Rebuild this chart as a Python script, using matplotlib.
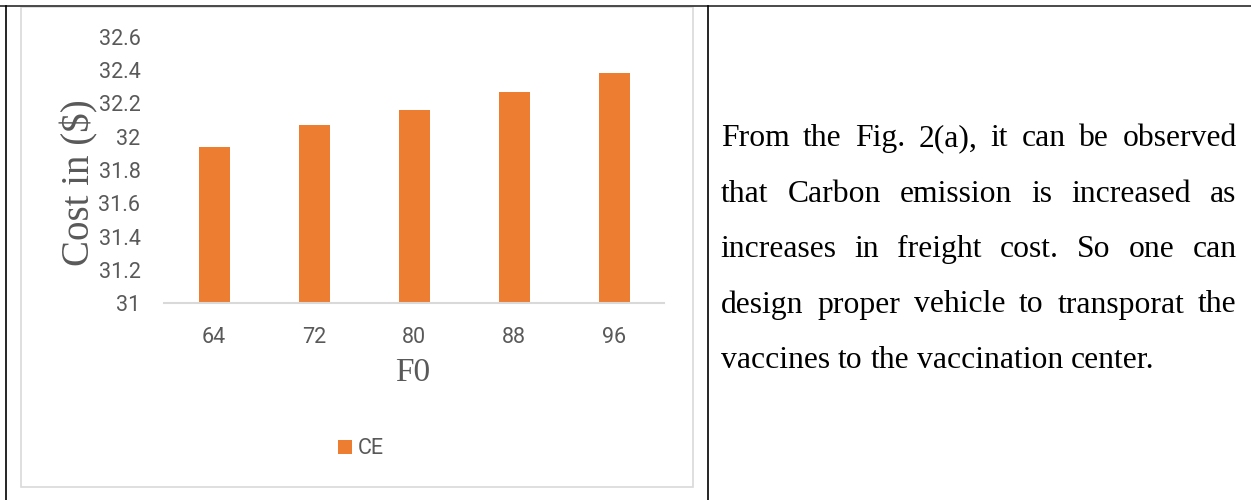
import matplotlib.pyplot as plt
from matplotlib.patches import Rectangle
from matplotlib.lines import Line2D

# freight cost levels and carbon emission cost
f0_levels = ["64", "72", "80", "88", "96"]
ce_cost = [31.94, 32.07, 32.16, 32.27, 32.38]
y_ticks = [31, 31.2, 31.4, 31.6, 31.8, 32, 32.2, 32.4, 32.6]
y_ticklabels = ["31", "31.2", "31.4", "31.6", "31.8", "32", "32.2", "32.4", "32.6"]

notes = [
    "From the Fig. 2(a), it can be observed",
    "that Carbon emission is increased as",
    "increases in freight cost. So one can",
    "design proper vehicle to transporat the",
    "vaccines to the vaccination center.",
]

W, H = 1251, 500
orange = "#ED7D31"
grey_txt = "#595959"
grey_line = "#D9D9D9"

fig = plt.figure(figsize=(W / 100, H / 100), dpi=100)

def px(x, y):
    # pixel position (from top-left) to figure fraction
    return x / W, 1 - y / H

# table borders
fig.add_artist(Line2D([0, 1], [1 - 5.5 / H] * 2, color="#3a3a3a", lw=1.3))
fig.add_artist(Line2D([6 / W] * 2, [0, 1 - 5.5 / H], color="black", lw=1.2))
fig.add_artist(Line2D([707.5 / W] * 2, [0, 1 - 5.5 / H], color="black", lw=1.2))

# chart frame
x0, y0 = px(21, 486.7)
x1, y1 = px(693, 7.3)
fig.add_artist(Rectangle((x0, y0), x1 - x0, y1 - y0, transform=fig.transFigure,
                         fill=False, edgecolor=grey_line, lw=1.2))

# bar chart
ax = fig.add_axes([164 / W, 1 - 303.3 / H, 500 / W, (303.3 - 36.7) / H])
xpos = range(len(f0_levels))
bars = ax.bar(xpos, [v - 31 for v in ce_cost], bottom=31, width=0.31,
              color=orange, label="CE", zorder=2)
ax.set_xlim(-0.5, len(f0_levels) - 0.5)
ax.set_ylim(31, 32.6)
ax.set_xticks(list(xpos))
ax.set_xticklabels(f0_levels)
ax.set_yticks(y_ticks)
ax.set_yticklabels(y_ticklabels)
ax.tick_params(length=0, labelsize=15.5, labelcolor=grey_txt, pad=17)
for lab in ax.get_xticklabels() + ax.get_yticklabels():
    lab.set_family("Roboto")
for s in ["top", "right", "left"]:
    ax.spines[s].set_visible(False)
ax.spines["bottom"].set_color(grey_line)
ax.spines["bottom"].set_linewidth(1.5)
ax.patch.set_alpha(0)

ax.set_xlabel("F0", family="Liberation Serif", fontsize=24, color=grey_txt, va="center")
ax.xaxis.set_label_coords((413 - 164) / 500, -(373 - 303.3) / 266.6)
ax.set_ylabel("Cost in ($)", family="Liberation Serif", fontsize=28, color=grey_txt,
              va="center", ha="center")
ax.yaxis.set_label_coords((79 - 164) / 500, (303.3 - 183) / 266.6)

lx, ly = px(361, 449)
ax.legend(loc="center", bbox_to_anchor=(lx, ly), bbox_transform=fig.transFigure,
          frameon=False, handlelength=0.65, handleheight=0.65, handletextpad=0.25,
          borderpad=0, prop={"family": "Roboto", "size": 15.5}, labelcolor=grey_txt)

# justified paragraph in the right cell
left, right = 720.7, 1236.7
baselines = [146, 201.5, 257, 312.5, 368]
renderer = fig.canvas.get_renderer()
for i, (line, yb) in enumerate(zip(notes, baselines)):
    words = line.split()
    arts = [fig.text(0, 1 - yb / H, w, family="Liberation Serif", fontsize=22.8,
                     color="black", va="baseline", ha="left") for w in words]
    widths = [a.get_window_extent(renderer).width for a in arts]
    if i < len(notes) - 1:
        gap = (right - left - sum(widths)) / (len(words) - 1)
    else:
        gap = 0.25 * 22.8 * 100 / 72
    x = left
    for a, w in zip(arts, widths):
        a.set_x(x / W)
        x += w + gap

fig.savefig("out.png", dpi=100)
